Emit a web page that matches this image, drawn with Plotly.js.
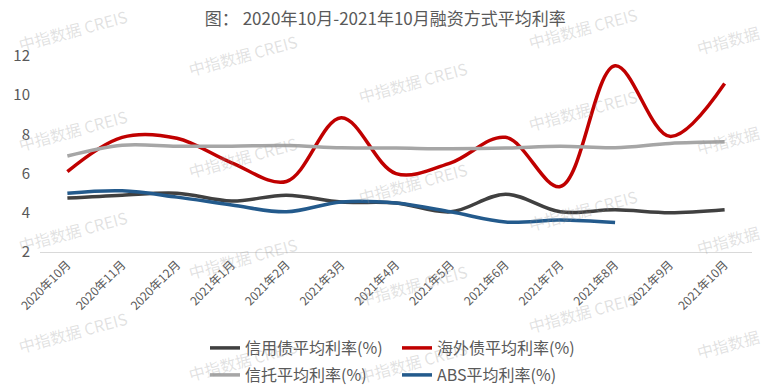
<!DOCTYPE html>
<html>
<head>
<meta charset="utf-8">
<script src="https://cdn.plot.ly/plotly-3.0.1.min.js"></script>
<style>html,body{margin:0;padding:0;background:#fff;}#chart{width:766px;height:388px;}</style>
</head>
<body>
<div id="chart"></div>
<script>
// ---- data ----
const categories = ["2020年10月","2020年11月","2020年12月","2021年1月","2021年2月","2021年3月","2021年4月","2021年5月","2021年6月","2021年7月","2021年8月","2021年9月","2021年10月"];
const creditBond  = [4.75, 4.9, 5.0, 4.6, 4.9, 4.55, 4.5, 4.05, 4.95, 4.05, 4.15, 4.0, 4.15];
const overseaBond = [6.1, 7.85, 7.8, 6.55, 5.6, 8.85, 6.0, 6.55, 7.85, 5.34, 11.5, 7.9, 10.6];
const trust       = [6.9, 7.45, 7.4, 7.4, 7.43, 7.32, 7.3, 7.27, 7.3, 7.4, 7.32, 7.54, 7.62];
const abs         = [5.0, 5.12, 4.8, 4.4, 4.05, 4.55, 4.5, 4.05, 3.53, 3.63, 3.5];
const seriesNames = ["信用债平均利率(%)", "海外债平均利率(%)", "信托平均利率(%)", "ABS平均利率(%)"];
const yTicks = [2, 4, 6, 8, 10, 12];
const titleText = "图： 2020年10月-2021年10月融资方式平均利率";
const watermarkText = "中指数据 CREIS";
const watermarkShort = "中指数据";

// ---- styles ----
const FONT = "Noto Sans CJK SC, Noto Sans, sans-serif";
const TXT = "#595959";
const colors = ["#404040", "#c00000", "#a6a6a6", "#235a8c"];
const W = 766, H = 388, M = {l: 40, r: 14, t: 56, b: 136, autoexpand: false};

function mk(y, i, legend) {
  return {
    type: "scatter", mode: "lines", x: categories.slice(0, y.length), y: y,
    name: seriesNames[i], legend: legend,
    line: {color: colors[i], width: 3.5, shape: "spline", smoothing: 1},
    hoverinfo: "skip"
  };
}
const traces = [
  mk(creditBond, 0, "legend"),
  mk(overseaBond, 1, "legend"),
  mk(trust, 2, "legend2"),
  mk(abs, 3, "legend2")
];

// watermark grid (pixel centres)
const wmCols = [73, 243, 413, 583, 728];
const wmRows = [[30,130,231,332],[55,157,258,360],[82,183,285,362],[28,110,210,312],[40,140,240,344]];
const pw = W - M.l - M.r, ph = H - M.t - M.b;
const annotations = [];
wmCols.forEach((cx, ci) => {
  wmRows[ci].forEach(cy => {
    annotations.push({
      xref: "paper", yref: "paper",
      x: (cx - M.l) / pw, y: (H - M.b - cy) / ph,
      xanchor: "center", yanchor: "middle",
      text: ci === wmCols.length - 1 ? watermarkShort : watermarkText,
      showarrow: false, textangle: -15,
      font: {family: FONT, size: 16, color: "rgba(150,150,150,0.28)"}
    });
  });
});

const legendCommon = {
  orientation: "h", xref: "paper", xanchor: "left", yanchor: "middle",
  font: {family: FONT, size: 16, color: TXT},
  entrywidth: 147, entrywidthmode: "pixels", bgcolor: "rgba(0,0,0,0)",
  tracegroupgap: 0, itemclick: false
};

const layout = {
  width: W, height: H, margin: M,
  paper_bgcolor: "#fff", plot_bgcolor: "#fff",
  font: {family: FONT, color: TXT},
  title: {text: titleText, font: {family: FONT, size: 17, color: TXT}, x: 0.503, xref: "container", xanchor: "center", y: 1 - 19 / H, yref: "container", yanchor: "middle", automargin: false},
  xaxis: {
    type: "category", range: [-0.5, categories.length - 0.5],
    showline: true, linecolor: "#d9d9d9", linewidth: 1,
    showgrid: false, zeroline: false, ticks: "", tickangle: -45,
    tickfont: {family: FONT, size: 12, color: TXT}, fixedrange: true, automargin: false
  },
  yaxis: {
    range: [2, 12], tickvals: yTicks, ticktext: yTicks.map(String),
    showgrid: false, zeroline: false, showline: false, ticks: "",
    ticklabelstandoff: 9,
    tickfont: {family: FONT, size: 15, color: TXT}, fixedrange: true, automargin: false
  },
  legend: Object.assign({}, legendCommon, {x: (205 - M.l) / pw, y: (H - M.b - 348) / ph}),
  legend2: Object.assign({}, legendCommon, {x: (205 - M.l) / pw, y: (H - M.b - 375) / ph}),
  annotations: annotations,
  showlegend: true
};

Plotly.newPlot("chart", traces, layout, {displayModeBar: false, staticPlot: true});
</script>
</body>
</html>
